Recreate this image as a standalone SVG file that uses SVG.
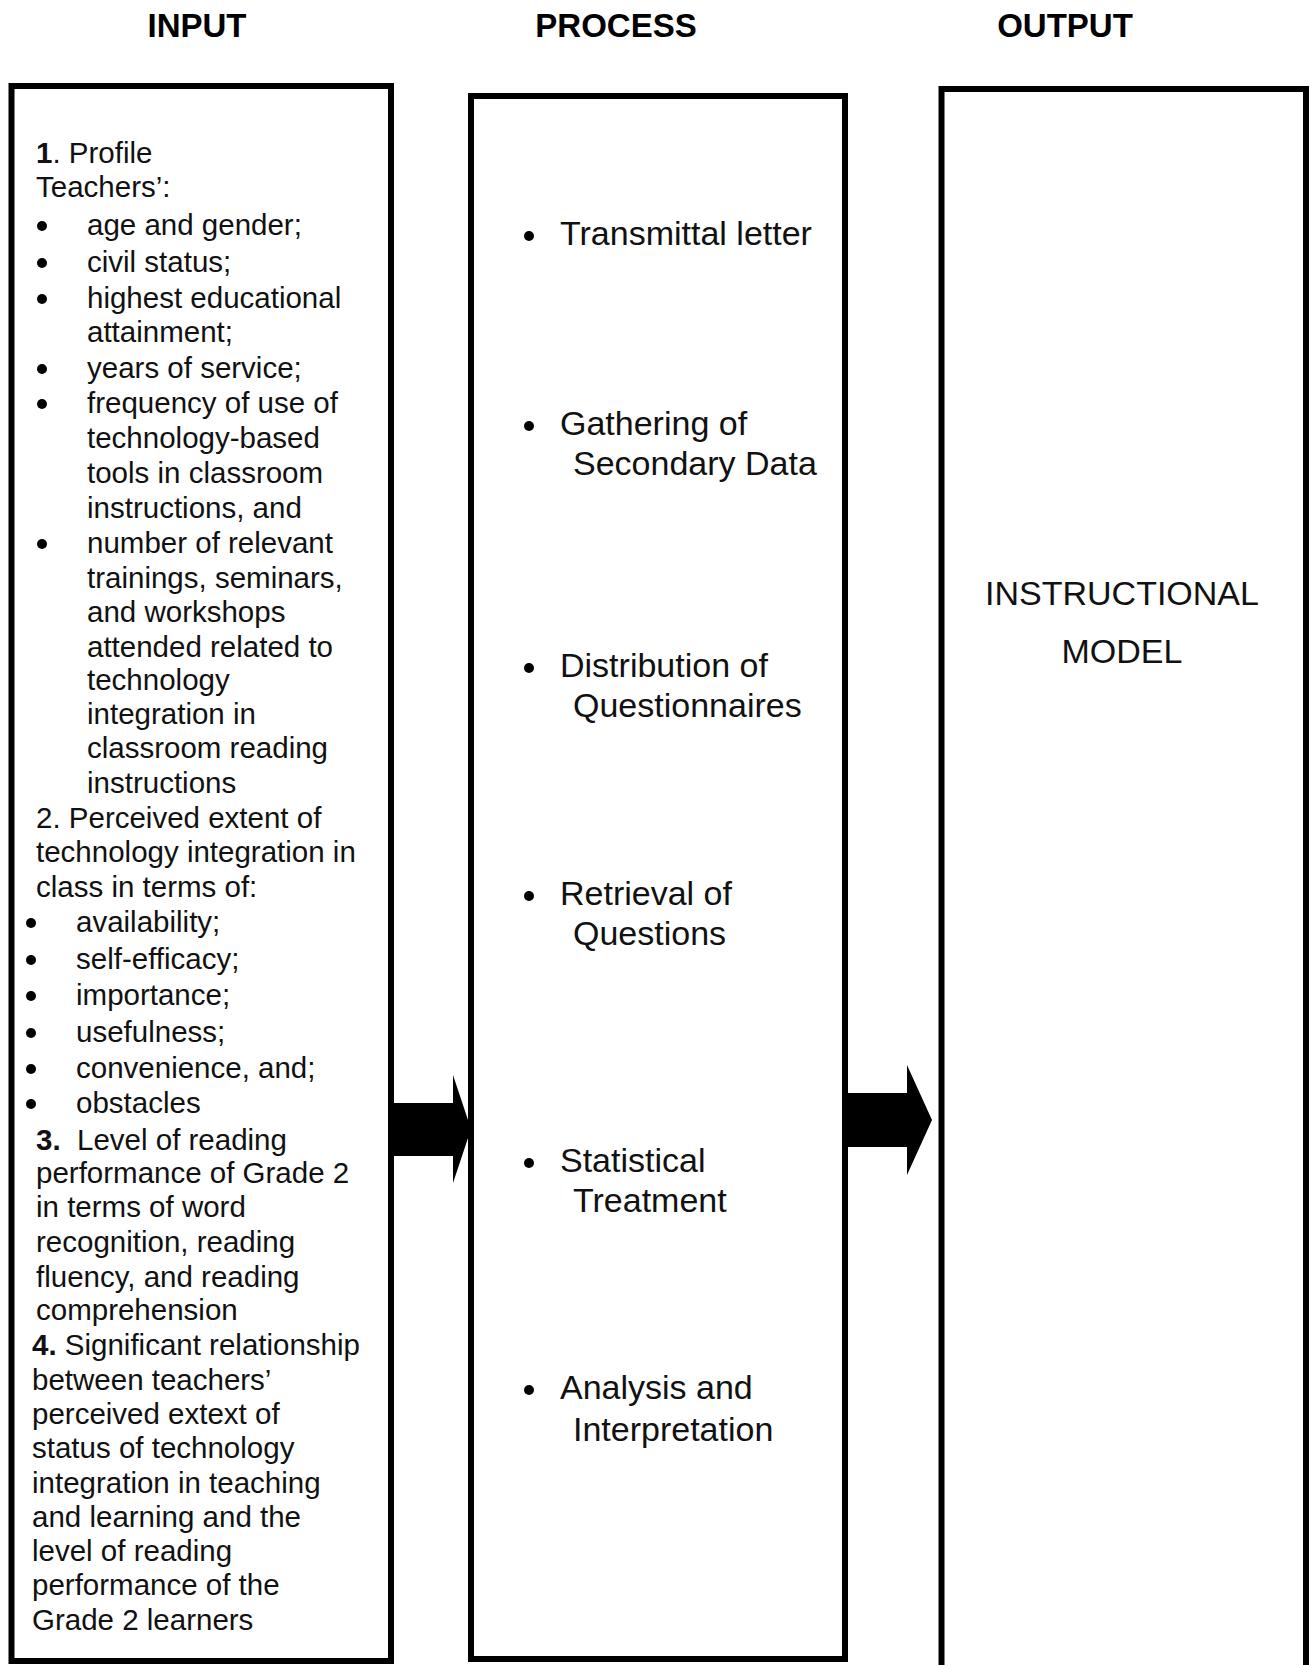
<svg xmlns="http://www.w3.org/2000/svg" width="1311" height="1665" viewBox="0 0 1311 1665">
<style>
.hdr{font-family:"Liberation Sans",Arial,sans-serif;font-size:33px;font-weight:bold;fill:#000;text-anchor:middle}
.in{font-family:"Liberation Sans",Arial,sans-serif;font-size:29.5px;fill:#111}
.pr{font-family:"Liberation Sans",Arial,sans-serif;font-size:34px;fill:#111}
.out{font-family:"Liberation Sans",Arial,sans-serif;font-size:34px;fill:#111;text-anchor:middle}
.box{fill:#fff;stroke:#000;stroke-width:6}
.b{font-weight:bold}
.dot{fill:#000}
.arrow{fill:#000;stroke:none}
</style>
<rect width="1311" height="1665" fill="#fff"/>
<g id="headers">
<text class="hdr" x="197" y="37">INPUT</text>
<text class="hdr" x="616" y="37">PROCESS</text>
<text class="hdr" x="1065" y="37">OUTPUT</text>
</g>
<g id="input">
<rect class="box" x="11.5" y="86" width="379.5" height="1575"/>
<text class="in" x="36" y="163"><tspan class="b">1</tspan>. Profile</text>
<text class="in" x="36" y="197">Teachers’:</text>
<circle class="dot" cx="42" cy="226" r="5"/><text class="in" x="87" y="235">age and gender;</text>
<circle class="dot" cx="42" cy="263" r="5"/><text class="in" x="87" y="272">civil status;</text>
<circle class="dot" cx="42" cy="299" r="5"/><text class="in" x="87" y="308">highest educational</text>
<text class="in" x="87" y="342">attainment;</text>
<circle class="dot" cx="42" cy="369" r="5"/><text class="in" x="87" y="378">years of service;</text>
<circle class="dot" cx="42" cy="404" r="5"/><text class="in" x="87" y="413">frequency of use of</text>
<text class="in" x="87" y="448">technology-based</text>
<text class="in" x="87" y="483">tools in classroom</text>
<text class="in" x="87" y="518">instructions, and</text>
<circle class="dot" cx="42" cy="544" r="5"/><text class="in" x="87" y="553">number of relevant</text>
<text class="in" x="87" y="588">trainings, seminars,</text>
<text class="in" x="87" y="622">and workshops</text>
<text class="in" x="87" y="657">attended related to</text>
<text class="in" x="87" y="690">technology</text>
<text class="in" x="87" y="724">integration in</text>
<text class="in" x="87" y="758">classroom reading</text>
<text class="in" x="87" y="793">instructions</text>
<text class="in" x="36" y="828">2. Perceived extent of</text>
<text class="in" x="36" y="862">technology integration in</text>
<text class="in" x="36" y="897">class in terms of:</text>
<circle class="dot" cx="31" cy="923" r="5"/><text class="in" x="76" y="932">availability;</text>
<circle class="dot" cx="31" cy="960" r="5"/><text class="in" x="76" y="969">self-efficacy;</text>
<circle class="dot" cx="31" cy="996" r="5"/><text class="in" x="76" y="1005">importance;</text>
<circle class="dot" cx="31" cy="1033" r="5"/><text class="in" x="76" y="1042">usefulness;</text>
<circle class="dot" cx="31" cy="1069" r="5"/><text class="in" x="76" y="1078">convenience, and;</text>
<circle class="dot" cx="31" cy="1104" r="5"/><text class="in" x="76" y="1113">obstacles</text>
<text class="in" x="36" y="1150"><tspan class="b">3.</tspan></text>
<text class="in" x="77" y="1150">Level of reading</text>
<text class="in" x="36" y="1183">performance of Grade 2</text>
<text class="in" x="36" y="1217">in terms of word</text>
<text class="in" x="36" y="1252">recognition, reading</text>
<text class="in" x="36" y="1287">fluency, and reading</text>
<text class="in" x="36" y="1320">comprehension</text>
<text class="in" x="32" y="1355"><tspan class="b">4.</tspan> Significant relationship</text>
<text class="in" x="32" y="1390">between teachers’</text>
<text class="in" x="32" y="1424">perceived extext of</text>
<text class="in" x="32" y="1458">status of technology</text>
<text class="in" x="32" y="1493">integration in teaching</text>
<text class="in" x="32" y="1527">and learning and the</text>
<text class="in" x="32" y="1561">level of reading</text>
<text class="in" x="32" y="1595">performance of the</text>
<text class="in" x="32" y="1630">Grade 2 learners</text>
</g>
<g id="process">
<rect class="box" x="471" y="96" width="374" height="1563"/>
<circle class="dot" cx="529" cy="236" r="5"/><text class="pr" x="560" y="245">Transmittal letter</text>
<circle class="dot" cx="529" cy="426" r="5"/><text class="pr" x="560" y="435">Gathering of</text>
<text class="pr" x="573" y="475">Secondary Data</text>
<circle class="dot" cx="529" cy="668" r="5"/><text class="pr" x="560" y="677">Distribution of</text>
<text class="pr" x="573" y="717">Questionnaires</text>
<circle class="dot" cx="529" cy="896" r="5"/><text class="pr" x="560" y="905">Retrieval of</text>
<text class="pr" x="573" y="945">Questions</text>
<circle class="dot" cx="529" cy="1163" r="5"/><text class="pr" x="560" y="1172">Statistical</text>
<text class="pr" x="573" y="1212">Treatment</text>
<circle class="dot" cx="529" cy="1390" r="5"/><text class="pr" x="560" y="1399">Analysis and</text>
<text class="pr" x="573" y="1441">Interpretation</text>
</g>
<g id="output">
<rect class="box" x="941.5" y="89" width="364.5" height="1580"/>
<text class="out" x="1122" y="605">INSTRUCTIONAL</text>
<text class="out" x="1122" y="663">MODEL</text>
</g>
<g id="connectors">
<polygon class="arrow" points="391,1103 453,1103 453,1075 471,1129 453,1183 453,1156 391,1156"/>
<polygon class="arrow" points="845,1093 907,1093 907,1065 932,1120 907,1175 907,1147 845,1147"/>
</g>
</svg>
